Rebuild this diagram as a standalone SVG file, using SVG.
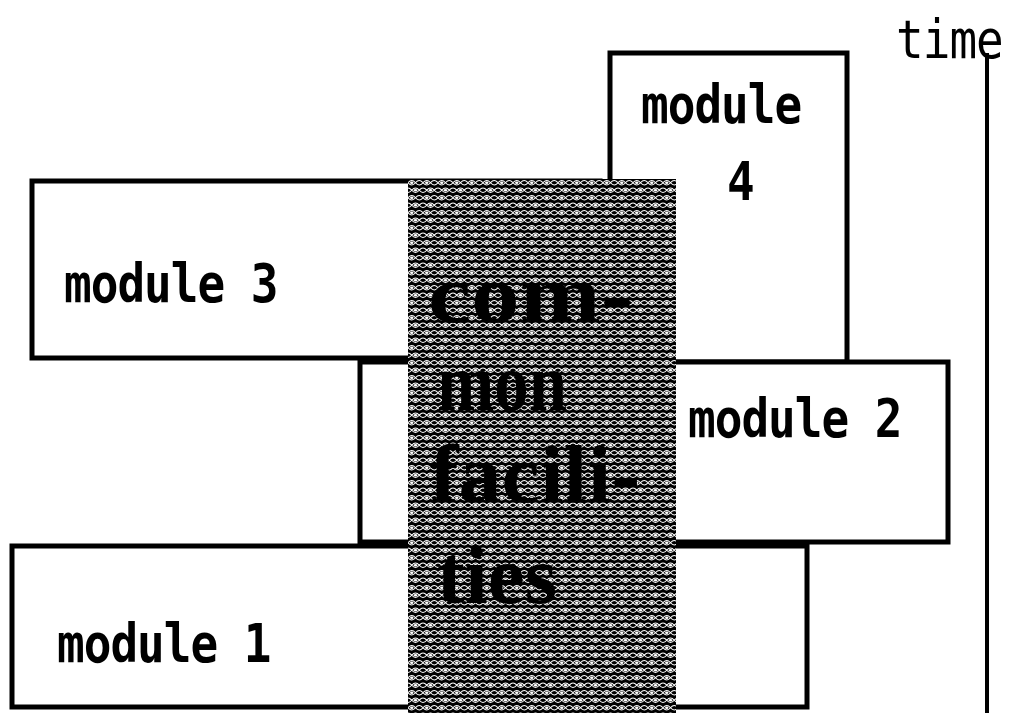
<svg xmlns="http://www.w3.org/2000/svg" width="1023" height="713" viewBox="0 0 1023 713">
<style>
.box{fill:#fff;stroke:#000;stroke-width:5}
.lbl{font-family:"DejaVu Sans Mono","Liberation Mono",monospace;font-weight:bold;font-size:46px;letter-spacing:-1px;fill:#000}
.time{font-family:"DejaVu Sans Mono","Liberation Mono",monospace;font-weight:normal;font-size:46px;letter-spacing:-1px;fill:#000}
.cf{font-family:"Liberation Serif","DejaVu Serif",serif;font-weight:bold;font-size:82px;fill:#000}
</style>
<defs>
<pattern id="mesh" x="408" y="179" width="15" height="15" patternUnits="userSpaceOnUse">
<rect width="15" height="15" fill="#000"/>
<path d="M0,3.75 Q3.75,-0.8 7.5,3.75 Q11.25,8.3 15,3.75 M0,3.75 Q3.75,8.3 7.5,3.75 Q11.25,-0.8 15,3.75" stroke="#fff" stroke-width="1.1" fill="none"/>
<path d="M-3.75,11.25 Q0,6.7 3.75,11.25 Q7.5,15.8 11.25,11.25 Q15,6.7 18.75,11.25 M-3.75,11.25 Q0,15.8 3.75,11.25 Q7.5,6.7 11.25,11.25 Q15,15.8 18.75,11.25" stroke="#fff" stroke-width="1.1" fill="none"/>
<ellipse cx="3.75" cy="3.75" rx="1.7" ry="1.2" fill="#fff"/>
<ellipse cx="7.5" cy="11.25" rx="1.7" ry="1.2" fill="#fff"/>
</pattern>
</defs>
<g id="module4">
<rect class="box" x="610" y="53" width="237" height="309"/>
<text class="lbl" transform="translate(641,123) scale(1,1.15)">module</text>
<text class="lbl" transform="translate(727,200) scale(1,1.15)">4</text>
</g>
<g id="module3">
<rect class="box" x="32" y="181" width="568" height="177"/>
<text class="lbl" transform="translate(64,302) scale(1,1.15)">module 3</text>
</g>
<g id="module2">
<rect class="box" x="360" y="362" width="588" height="180"/>
<text class="lbl" transform="translate(688,437) scale(1,1.15)">module 2</text>
</g>
<g id="module1">
<rect class="box" x="12" y="546" width="795" height="161"/>
<text class="lbl" transform="translate(57,662) scale(1,1.15)">module 1</text>
</g>
<g id="common-facilities">
<rect x="408" y="179" width="268" height="534" fill="url(#mesh)"/>
<text class="cf" x="428" y="322" textLength="205" lengthAdjust="spacingAndGlyphs">com-</text>
<text class="cf" x="437" y="410" textLength="130" lengthAdjust="spacingAndGlyphs">mon</text>
<text class="cf" x="430" y="502" textLength="210" lengthAdjust="spacingAndGlyphs">facili-</text>
<text class="cf" x="437" y="603" textLength="120" lengthAdjust="spacingAndGlyphs">ties</text>
</g>
<g id="time-axis">
<line x1="987" y1="53" x2="987" y2="713" stroke="#000" stroke-width="4"/>
<text class="time" transform="translate(896,58) scale(1,1.15)">time</text>
</g>
<g id="connectors"></g>
</svg>
